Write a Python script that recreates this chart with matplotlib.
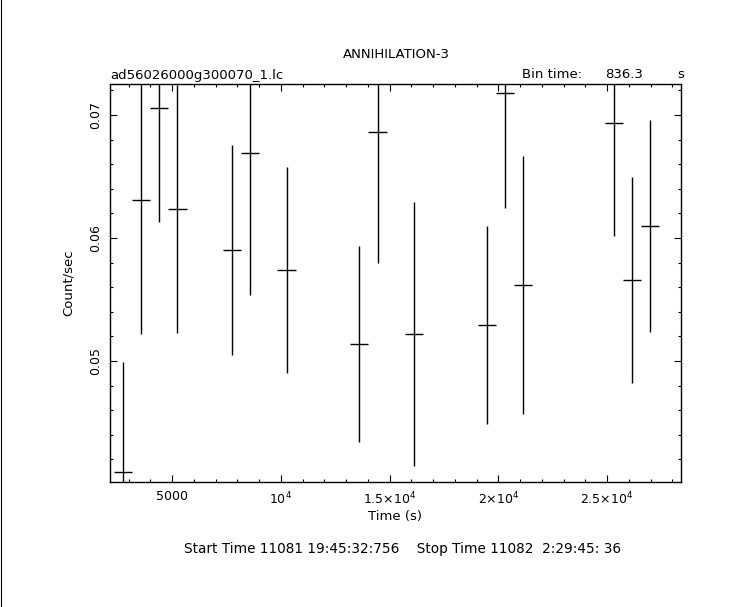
import matplotlib
matplotlib.use("Agg")
import matplotlib.pyplot as plt
from matplotlib.ticker import MultipleLocator, FixedLocator
from matplotlib.lines import Line2D

# ---- data ----
bin_time = 836.3
times = [2740, 3577, 4413, 5249, 7758, 8594, 10267, 13612, 14449, 16121,
         19467, 20303, 21139, 25321, 26157, 26994]
rates = [0.04098, 0.06309, 0.07057, 0.06236, 0.05902, 0.06691, 0.05740, 0.05138,
         0.06862, 0.05220, 0.05293, 0.07179, 0.05618, 0.06935, 0.05659, 0.06098]
errors = [0.00894, 0.01089, 0.00927, 0.01008, 0.00850, 0.01154, 0.00835, 0.00795,
          0.01065, 0.01073, 0.00805, 0.00935, 0.01050, 0.00919, 0.00835, 0.00860]
xtick_vals = [5000, 10000, 15000, 20000, 25000]
xtick_labels = ["5000", r"$10^4$", r"$1.5{\times}10^4$", r"$2{\times}10^4$", r"$2.5{\times}10^4$"]
ytick_vals = [0.05, 0.06, 0.07]
ytick_labels = ["0.05", "0.06", "0.07"]

plt.rcParams['font.family'] = ['DejaVu Sans']

fig = plt.figure(figsize=(7.43, 6.07), dpi=100)
ax = fig.add_axes([110/743, 1-482/607, (681-110)/743, (482-84)/607])

ax.errorbar(times, rates, xerr=bin_time/2, yerr=errors, fmt='none',
            ecolor='black', elinewidth=1.0, capsize=0)

ax.set_xlim(2149, 28402)
ax.set_ylim(0.04016, 0.07252)

ax.xaxis.set_major_locator(FixedLocator(xtick_vals))
ax.xaxis.set_minor_locator(MultipleLocator(1000))
ax.yaxis.set_major_locator(FixedLocator(ytick_vals))
ax.yaxis.set_minor_locator(MultipleLocator(0.002))
ax.set_xticklabels(xtick_labels, fontsize=9)
ax.set_yticklabels(ytick_labels, fontsize=9, rotation=90, va='center')

ax.tick_params(which='both', direction='in', top=True, right=True, width=0.8, color='black')
ax.tick_params(which='major', length=5, pad=6)
ax.tick_params(which='minor', length=2.3)
for s in ax.spines.values():
    s.set_linewidth(1.0)

ax.set_xlabel("Time (s)", fontsize=9.5, labelpad=2)
ax.set_ylabel("Count/sec", fontsize=9.5, labelpad=10)

fig.text(396/743, 1-55/607, "ANNIHILATION-3", ha='center', va='center', fontsize=9.5)
fig.text(110/743, 1-75/607, "ad56026000g300070_1.lc", ha='left', va='center', fontsize=9.5)
fig.text(522/743, 1-75/607, "Bin time:", ha='left', va='center', fontsize=9.5)
fig.text(605/743, 1-75/607, "836.3", ha='left', va='center', fontsize=9.5)
fig.text(677/743, 1-75/607, "s", ha='left', va='center', fontsize=9.5)
fig.text(403/743, 1-549/607, "Start Time 11081 19:45:32:756    Stop Time 11082  2:29:45: 36",
         ha='center', va='center', fontsize=9.8)

fig.add_artist(Line2D([0.5/743, 0.5/743], [0, 1], color='black', linewidth=0.8,
                      transform=fig.transFigure))

fig.savefig("out.png", dpi=100)
